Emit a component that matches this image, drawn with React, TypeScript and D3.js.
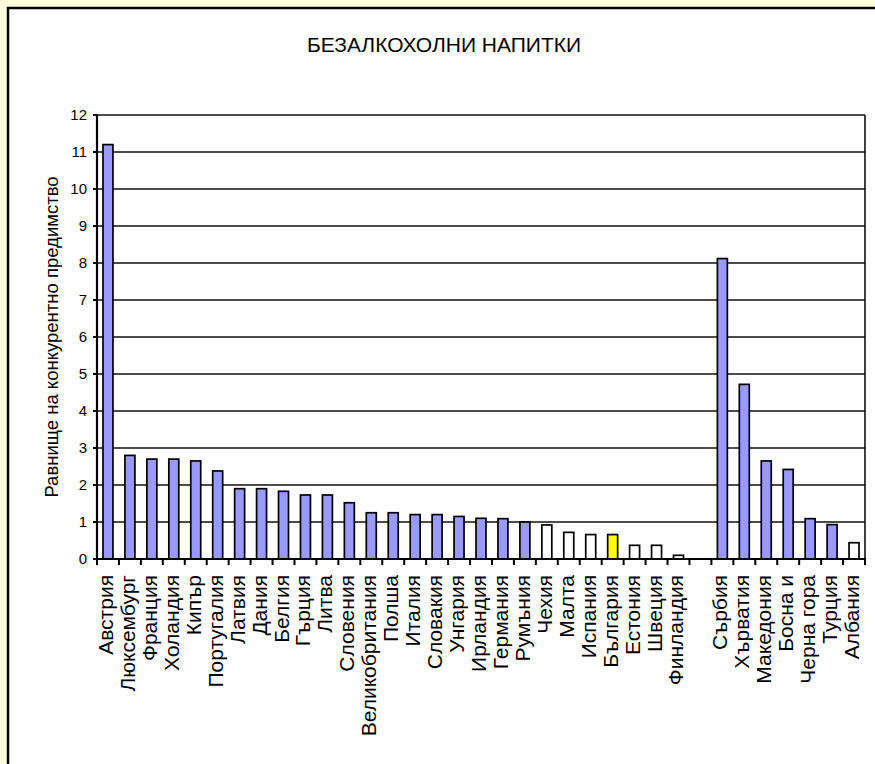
import { useEffect, useRef } from 'react'
import * as d3 from 'd3'

const title = 'БЕЗАЛКОХОЛНИ НАПИТКИ'
const yTitle = 'Равнище на конкурентно предимство'

// '' marks the empty slot between the EU group and the Balkan group
const categories = [
  'Австрия', 'Люксембург', 'Франция', 'Холандия', 'Кипър', 'Португалия', 'Латвия', 'Дания',
  'Белгия', 'Гърция', 'Литва', 'Словения', 'Великобритания', 'Полша', 'Италия', 'Словакия',
  'Унгария', 'Ирландия', 'Германия', 'Румъния', 'Чехия', 'Малта', 'Испания', 'България',
  'Естония', 'Швеция', 'Финландия', '',
  'Сърбия', 'Хърватия', 'Македония', 'Босна и', 'Черна гора', 'Турция', 'Албания',
]

const values: (number | null)[] = [
  11.2, 2.8, 2.7, 2.7, 2.65, 2.38, 1.9, 1.9,
  1.83, 1.73, 1.73, 1.52, 1.25, 1.25, 1.2, 1.2,
  1.15, 1.1, 1.09, 1.0, 0.92, 0.72, 0.66, 0.66,
  0.37, 0.37, 0.1, null,
  8.12, 4.72, 2.65, 2.42, 1.09, 0.93, 0.44,
]

// p = purple, w = white, y = yellow
const groups = [
  'p', 'p', 'p', 'p', 'p', 'p', 'p', 'p',
  'p', 'p', 'p', 'p', 'p', 'p', 'p', 'p',
  'p', 'p', 'p', 'p', 'w', 'w', 'w', 'y',
  'w', 'w', 'w', '',
  'p', 'p', 'p', 'p', 'p', 'p', 'w',
]

const yTicks = [0, 1, 2, 3, 4, 5, 6, 7, 8, 9, 10, 11, 12]

export default function App() {
  const svgRef = useRef<SVGSVGElement>(null)

  useEffect(() => {
    if (!svgRef.current) return
    const svg = d3.select(svgRef.current)
    svg.selectAll('*').remove()

    const W = 875, H = 764
    const left = 97, right = 865, top = 115, bottom = 559
    const font = 'Arial, "Liberation Sans", sans-serif'

    svg.attr('width', W).attr('height', H)

    // page + chart area
    svg.append('rect').attr('width', W).attr('height', H).attr('fill', '#ffffdd')
    svg.append('rect').attr('x', 8).attr('y', 8).attr('width', W + 40).attr('height', H + 40)
      .attr('fill', '#fff').attr('stroke', '#000').attr('stroke-width', 2.5)

    const idx = categories.map((_, i) => i)
    const x = d3.scaleBand<number>().domain(idx).range([left, right]).paddingInner(0).paddingOuter(0)
    const y = d3.scaleLinear().domain([0, 12]).range([bottom, top])
    const barW = x.bandwidth() / 2.2

    // gridlines
    svg.append('g').selectAll('line').data(yTicks.filter(t => t > 0)).enter().append('line')
      .attr('x1', left).attr('x2', right).attr('y1', d => y(d)).attr('y2', d => y(d))
      .attr('stroke', '#111').attr('stroke-width', 1.6)

    // right border of plot
    svg.append('line').attr('x1', right).attr('x2', right).attr('y1', top).attr('y2', bottom)
      .attr('stroke', '#111').attr('stroke-width', 1.6)

    const fillOf = (g: string) => (g === 'y' ? '#ffff00' : g === 'w' ? '#ffffff' : '#9999ff')

    svg.append('g').selectAll('rect').data(idx.filter(i => values[i] != null)).enter().append('rect')
      .attr('x', i => (x(i) as number) + x.bandwidth() / 2 - barW / 2)
      .attr('width', barW)
      .attr('y', i => y(values[i] as number))
      .attr('height', i => bottom - y(values[i] as number))
      .attr('fill', i => fillOf(groups[i]))
      .attr('stroke', '#000').attr('stroke-width', 1.7)

    // axes
    svg.append('line').attr('x1', left).attr('x2', left).attr('y1', top).attr('y2', bottom)
      .attr('stroke', '#000').attr('stroke-width', 2.2)
    svg.append('line').attr('x1', left - 4).attr('x2', right + 1).attr('y1', bottom).attr('y2', bottom)
      .attr('stroke', '#000').attr('stroke-width', 2.2)

    // y ticks + labels
    const yt = svg.append('g')
    yt.selectAll('line').data(yTicks).enter().append('line')
      .attr('x1', left - 4).attr('x2', left).attr('y1', d => y(d)).attr('y2', d => y(d))
      .attr('stroke', '#000').attr('stroke-width', 2)
    yt.selectAll('text').data(yTicks).enter().append('text')
      .attr('x', 87).attr('y', d => y(d)).attr('dy', '0.35em').attr('text-anchor', 'end')
      .style('font-family', font).style('font-size', '15px').text(d => d)

    // x ticks at band boundaries
    const bounds = d3.range(categories.length + 1).map(i => left + i * x.step())
    svg.append('g').selectAll('line').data(bounds).enter().append('line')
      .attr('x1', d => d).attr('x2', d => d).attr('y1', bottom).attr('y2', bottom + 6)
      .attr('stroke', '#000').attr('stroke-width', 2)

    // category labels
    svg.append('g').selectAll('text').data(idx.filter(i => categories[i] !== '')).enter().append('text')
      .attr('transform', i => `translate(${(x(i) as number) + x.bandwidth() / 2 + 5},575) rotate(-90)`)
      .attr('text-anchor', 'end')
      .style('font-family', font).style('font-size', '21px').text(i => categories[i])

    // titles
    svg.append('text').attr('x', 444).attr('y', 52).attr('text-anchor', 'middle')
      .style('font-family', font).style('font-size', '21px').text(title)

    svg.append('text').attr('transform', `translate(58,${(top + bottom) / 2}) rotate(-90)`)
      .attr('text-anchor', 'middle')
      .style('font-family', font).style('font-size', '18.5px').text(yTitle)
  }, [])

  return (
    <div style={{ position: 'absolute', left: 0, top: 0 }}>
      <svg ref={svgRef} style={{ display: 'block' }} />
    </div>
  )
}
